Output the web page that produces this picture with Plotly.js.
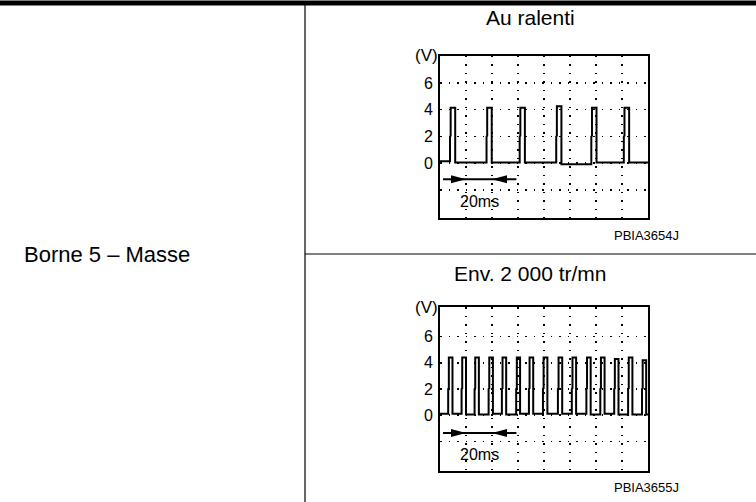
<!DOCTYPE html>
<html><head><meta charset="utf-8">
<script src="https://cdn.plot.ly/plotly-3.0.1.min.js"></script>
<style>html,body{margin:0;padding:0;background:#fff}#chart{width:756px;height:502px}</style>
</head><body><div id="chart"></div>
<script>
// ---- data ----
const rowLabel = 'Borne 5 – Masse';
const titles = ['Au ralenti', 'Env. 2 000 tr/mn'];
const codes = ['PBIA3654J', 'PBIA3655J'];
const yTickVals = [-2, 0, 2, 4, 6];
const yTickText = ['', '0', '2', '4', '6'];
const xGridMs = [0, 20, 40, 60, 80, 100, 120, 140, 160];
const scaleLabel = '20ms';
const scaleTipsMs = [20, 40];
const scaleLineMs = [2.3, 58.8];

// idle (Au ralenti): pulse rise/fall times (ms), high level (V), baseline levels (V)
const idleRise = [7.7, 35.8, 61.3, 89.4, 116.4, 141.4];
const idleFall = [11.7, 39.8, 65.3, 93.4, 120.4, 145.5];
const idleHigh = [4.15, 4.15, 4.15, 4.25, 4.15, 4.15];
const idleBase = [0.15, 0.05, 0.05, 0.05, -0.08, 0.05, 0.05];

// ~2000 rpm
const fastRise = [6.3, 16.6, 26.6, 37.4, 47.6, 58.6, 68.4, 79.2, 90.7, 101.4, 112.6, 123.3, 134.0, 144.7, 155.4];
const fastFall = [9.6, 20.0, 29.9, 40.7, 50.9, 61.6, 71.7, 82.6, 94.0, 104.7, 115.9, 126.6, 137.3, 148.0, 158.6];
const fastHigh = [4.4, 4.4, 4.4, 4.4, 4.4, 4.4, 4.4, 4.4, 4.4, 4.4, 4.4, 4.4, 4.3, 4.4, 4.2];
const fastBase = [0.1, 0.1, 0.05, 0.05, 0.1, 0.05, 0.1, 0.1, 0.1, 0.1, 0.1, 0.05, 0.1, 0.05, 0.05, 0.05];

function wave(rise, fall, high, base, tEnd) {
  const t = [0], v = [base[0]];
  for (let i = 0; i < rise.length; i++) {
    t.push(rise[i], rise[i], rise[i] + 0.5, rise[i] + 0.5, fall[i], fall[i]);
    v.push(base[i], 2, 2.05, high[i], high[i], base[i + 1]);
  }
  t.push(tEnd); v.push(base[base.length - 1]);
  return {t, v};
}
const w1 = wave(idleRise, idleFall, idleHigh, idleBase, 160);
const w2 = wave(fastRise, fastFall, fastHigh, fastBase, 160);

const FONT = 'Liberation Sans, Arial, sans-serif';
const traces = [
  {x: w1.t, y: w1.v, xaxis: 'x', yaxis: 'y', mode: 'lines', line: {color: '#000', width: 2}, hoverinfo: 'skip'},
  {x: w2.t, y: w2.v, xaxis: 'x2', yaxis: 'y2', mode: 'lines', line: {color: '#000', width: 2}, hoverinfo: 'skip'}
];

const W = 756, H = 502;
const px = x => x / W, py = y => 1 - y / H;

function xax(anchor) {
  return {domain: [px(440), px(648)], range: [0, 160], anchor: anchor, tickvals: xGridMs,
    showticklabels: false, ticks: '', showgrid: true, gridcolor: '#000', gridwidth: 1.5, griddash: '1.5px,7px',
    zeroline: false, showline: true, mirror: true, linecolor: '#000', linewidth: 1.8, fixedrange: true};
}
function yax(anchor, dom, rng) {
  return {domain: dom, range: rng, anchor: anchor, tickvals: yTickVals, ticktext: yTickText,
    ticks: '', ticklabelstandoff: 2, tickfont: {family: FONT, size: 16, color: '#000'},
    showgrid: true, gridcolor: '#000', gridwidth: 1.5, griddash: '1.5px,7px',
    zeroline: false, showline: true, mirror: true, linecolor: '#000', linewidth: 1.8, fixedrange: true};
}

const shapes = [
  {type: 'line', xref: 'paper', yref: 'paper', x0: 0, x1: 1, y0: py(3), y1: py(3), line: {color: '#000', width: 5}},
  {type: 'line', xref: 'paper', yref: 'paper', x0: px(305), x1: px(305), y0: 0, y1: py(5), line: {color: '#000', width: 1.2}},
  {type: 'line', xref: 'paper', yref: 'paper', x0: px(305), x1: 1, y0: py(254), y1: py(254), line: {color: '#000', width: 1.2}}
];
const scaleY = [-1.2, -1.37];
[['x', 'y'], ['x2', 'y2']].forEach(([xr, yr], k) => {
  shapes.push({type: 'line', xref: xr, yref: yr, x0: scaleLineMs[0], x1: scaleLineMs[1], y0: scaleY[k], y1: scaleY[k], line: {color: '#000', width: 2}});
  shapes.push({type: 'path', xref: xr, yref: yr, xsizemode: 'pixel', ysizemode: 'pixel', xanchor: scaleTipsMs[0], yanchor: scaleY[k],
    path: 'M0,0L-15,4L-15,-4Z', fillcolor: '#000', line: {width: 0}});
  shapes.push({type: 'path', xref: xr, yref: yr, xsizemode: 'pixel', ysizemode: 'pixel', xanchor: scaleTipsMs[1], yanchor: scaleY[k],
    path: 'M0,0L15,4L15,-4Z', fillcolor: '#000', line: {width: 0}});
});

const ann = (o) => Object.assign({showarrow: false, font: {family: FONT, color: '#000', size: 21}}, o);
const small = (s) => ({family: FONT, size: s, color: '#000'});
const annotations = [
  ann({text: titles[0], xref: 'paper', yref: 'paper', x: px(530.5), y: py(18), xanchor: 'center', yanchor: 'middle'}),
  ann({text: titles[1], xref: 'paper', yref: 'paper', x: px(530.5), y: py(273), xanchor: 'center', yanchor: 'middle'}),
  ann({text: rowLabel, xref: 'paper', yref: 'paper', x: px(22), y: py(254), xanchor: 'left', yanchor: 'middle', font: small(22)}),
  ann({text: codes[0], xref: 'paper', yref: 'paper', x: px(681), y: py(235), xanchor: 'right', yanchor: 'middle', font: small(13)}),
  ann({text: codes[1], xref: 'paper', yref: 'paper', x: px(681), y: py(487), xanchor: 'right', yanchor: 'middle', font: small(13)}),
  ann({text: '(V)', xref: 'paper', yref: 'paper', x: px(440), y: py(55), xanchor: 'right', yanchor: 'middle', font: small(17)}),
  ann({text: '(V)', xref: 'paper', yref: 'paper', x: px(440), y: py(307), xanchor: 'right', yanchor: 'middle', font: small(17)}),
  ann({text: scaleLabel, xref: 'x', yref: 'y', x: 30.5, y: -2.85, xanchor: 'center', yanchor: 'middle', font: small(16)}),
  ann({text: scaleLabel, xref: 'x2', yref: 'y2', x: 30.5, y: -3.0, xanchor: 'center', yanchor: 'middle', font: small(16)})
];

const layout = {
  width: W, height: H, margin: {l: 0, r: 0, t: 0, b: 0},
  paper_bgcolor: '#fff', plot_bgcolor: '#fff', showlegend: false,
  xaxis: xax('y'), yaxis: yax('x', [py(218), py(55.5)], [-4.1, 8.05]),
  xaxis2: xax('y2'), yaxis2: yax('x2', [py(471), py(307)], [-4.27, 8.27]),
  shapes: shapes, annotations: annotations
};
Plotly.newPlot('chart', traces, layout, {displayModeBar: false, staticPlot: true});
</script></body></html>
